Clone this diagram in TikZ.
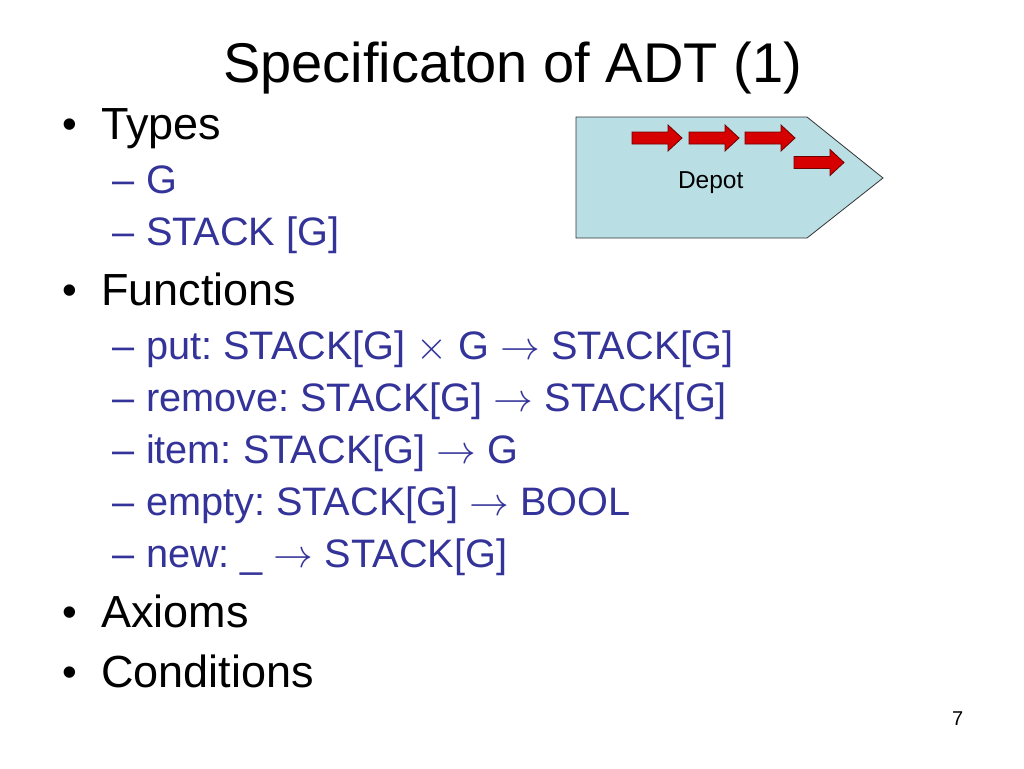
\documentclass[tikz,border=0pt]{standalone}
\usepackage{fix-cm}
\usepackage{fontspec}
\setmainfont{Liberation Sans}
\frenchspacing
\definecolor{subblue}{RGB}{51,51,153}
\definecolor{depotfill}{RGB}{185,223,228}
\definecolor{arrowred}{RGB}{214,0,0}
\definecolor{arrowedge}{RGB}{110,0,0}
\newcommand{\myarr}{\(\rightarrow\)}
\newcommand{\mytimes}{\(\times\)}
\tikzset{
  txt/.style={inner sep=0pt, outer sep=0pt, anchor=base west},
  titletxt/.style={inner sep=0pt, outer sep=0pt, anchor=base, font=\fontsize{56}{60}\selectfont},
  lvlone/.style={txt, font=\fontsize{45}{50}\selectfont, text=black},
  lvltwo/.style={txt, font=\fontsize{39.7}{44}\selectfont, text=subblue},
  bulletmark/.style={inner sep=0pt, outer sep=0pt, anchor=base, font=\fontsize{42}{46}\selectfont},
  dashmark/.style={txt, font=\fontsize{39.7}{44}\selectfont, text=subblue},
  blockarrow/.pic={
    \path[fill=arrowred, draw=arrowedge, line width=0.8pt, line join=miter]
      (0,-6) -- (36,-6) -- (36,-13) -- (50,0) -- (36,13) -- (36,6) -- (0,6) -- cycle;
  }
}
\begin{document}
\begin{tikzpicture}[x=1pt, y=-1pt]
\useasboundingbox (0,0) rectangle (1024,768);
\fill[white] (0,0) rectangle (1024,768);

% title
\node[titletxt] (title) at (512.5,82) {Specificaton of ADT (1)};

% level one
\node[bulletmark] (b1) at (69.5,138) {•};
\node[lvlone] (types) at (101,139) {Types};
\node[bulletmark] (b2) at (69.5,304) {•};
\node[lvlone] (functions) at (101,305) {Functions};
\node[bulletmark] (b3) at (69.5,626) {•};
\node[lvlone] (axioms) at (101,627) {Axioms};
\node[bulletmark] (b4) at (69.5,686) {•};
\node[lvlone] (conditions) at (101,687) {Conditions};

% level two
\node[dashmark] (d1) at (112,193) {–};
\node[lvltwo] (g) at (146,193) {G};
\node[dashmark] (d2) at (112,245) {–};
\node[lvltwo] (stack) at (146,245) {STACK [G]};
\node[dashmark] (d3) at (112,359) {–};
\node[lvltwo] (put) at (146,359) {put: STACK[G] \mytimes{} G \myarr{} STACK[G]};
\node[dashmark] (d4) at (112,411) {–};
\node[lvltwo] (remove) at (146,411) {remove: STACK[G] \myarr{} STACK[G]};
\node[dashmark] (d5) at (112,463) {–};
\node[lvltwo] (item) at (146,463) {item: STACK[G] \myarr{} G};
\node[dashmark] (d6) at (112,515) {–};
\node[lvltwo] (empty) at (146,515) {empty: STACK[G] \myarr{} BOOL};
\node[dashmark] (d7) at (112,567) {–};
\node[lvltwo] (new) at (146,567) {new: \_ \myarr{} STACK[G]};

% depot shape
\path[fill=depotfill, draw=black!80, line width=0.8pt, line join=miter]
  (576,117) -- (807,117) -- (883,178) -- (807,238) -- (576,238) -- cycle;
\node[txt, font=\fontsize{24.5}{28}\selectfont] (depot) at (678,188) {Depot};
\pic at (632,138) {blockarrow};
\pic at (689,138) {blockarrow};
\pic at (745,138) {blockarrow};
\pic at (794,162.5) {blockarrow};

% page number
\node[txt, font=\fontsize{20}{24}\selectfont] (pagenum) at (952,725) {7};
\end{tikzpicture}
\end{document}
